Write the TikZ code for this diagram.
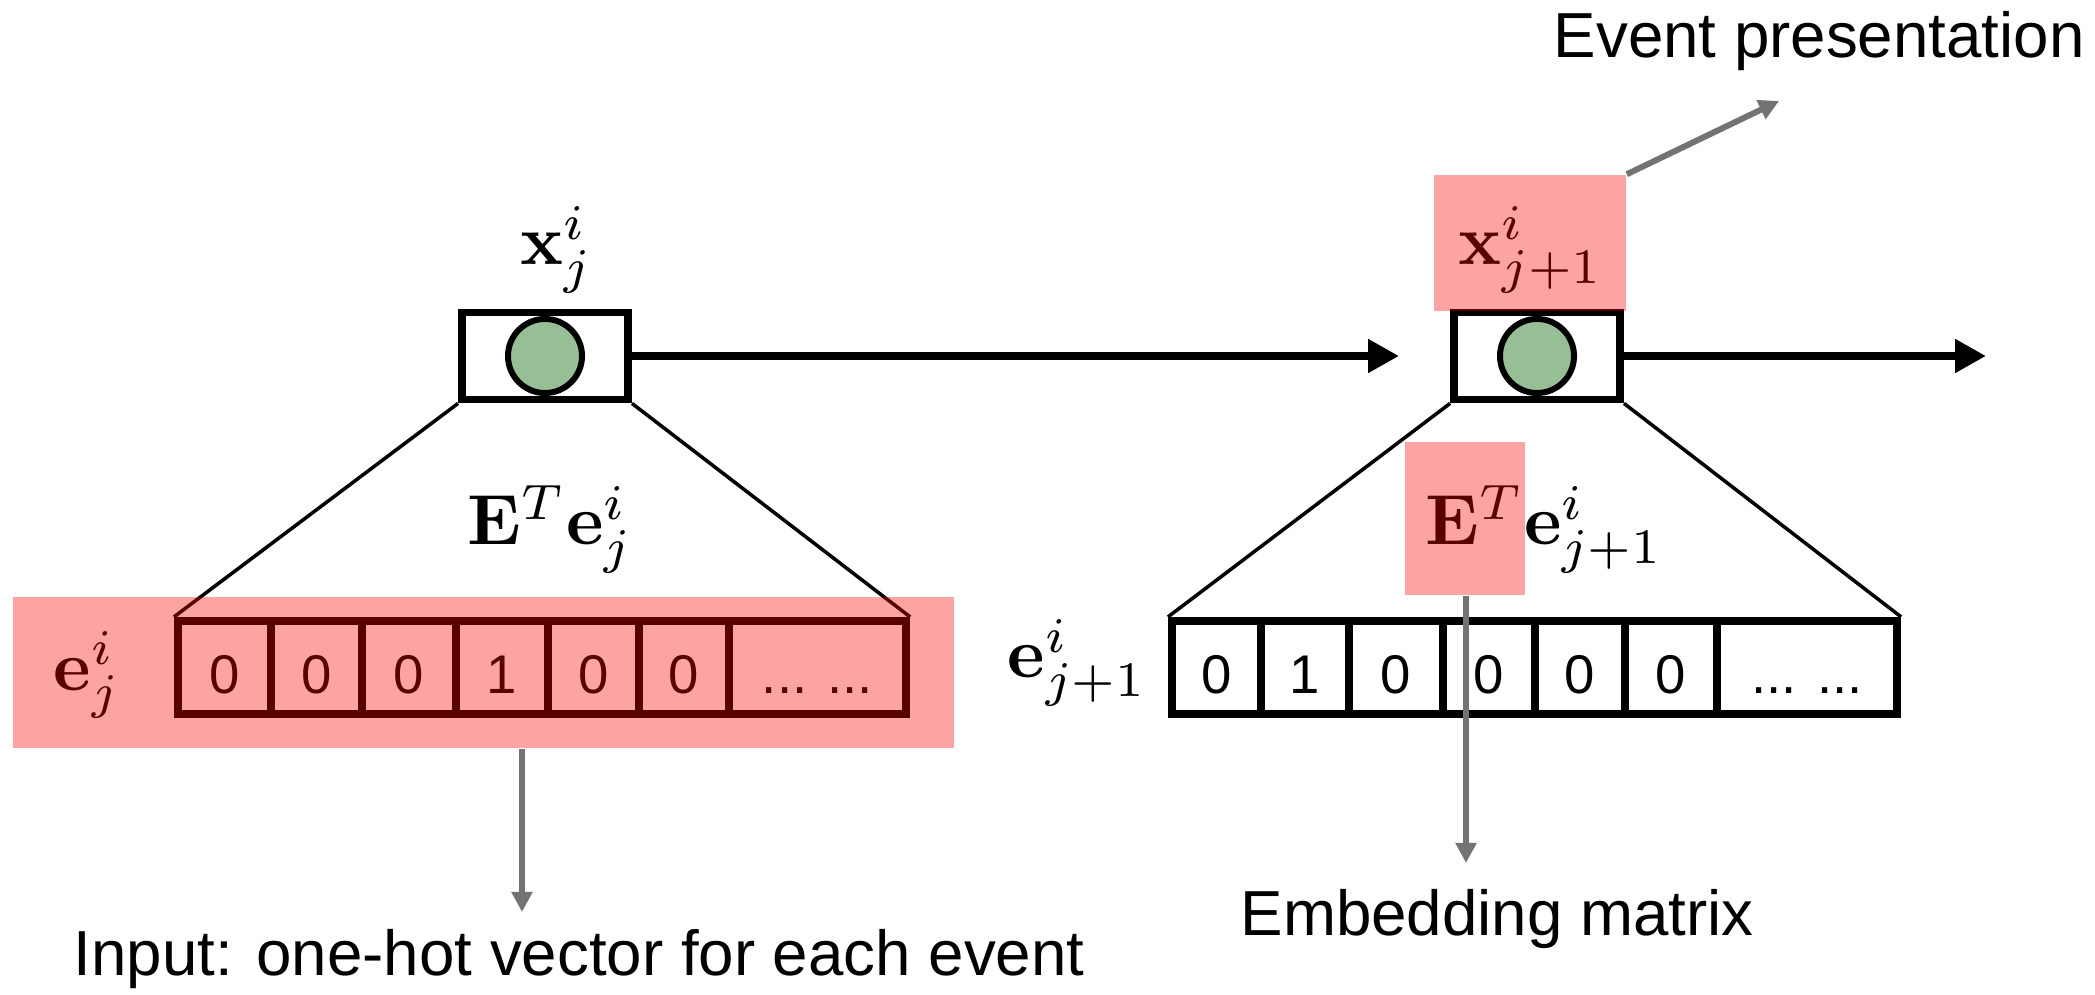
\documentclass[tikz,border=0pt]{standalone}
\usepackage{fix-cm}
\usepackage[no-math]{fontspec}
\newfontfamily\arialf{Liberation Sans}
\usetikzlibrary{arrows.meta}
\definecolor{hlred}{RGB}{247,0,0}
\definecolor{cellgreen}{RGB}{152,190,150}
\definecolor{pointer}{RGB}{115,115,115}
% formulas are set at 10pt and enlarged, keeping the small-size glyph shapes
\newcommand{\scaledmath}[1]{\scalebox{2.02}{\fontsize{10}{12}\selectfont$#1$}}

\begin{document}
\begin{tikzpicture}[x=0.01cm,y=-0.01cm,
  unitbox/.style={draw, line width=2.2pt, minimum width=1.66cm, minimum height=0.87cm, inner sep=0},
  unitdot/.style={circle, draw, line width=1.7pt, fill=cellgreen, minimum size=0.74cm, inner sep=0},
  cell/.style={draw, line width=2.3pt, minimum height=0.93cm, inner sep=0,
    text height=15pt, text depth=0pt, font=\arialf\fontsize{15.5}{18}\selectfont},
  mathlbl/.style={inner sep=0, anchor=base west},
  caption/.style={inner sep=0, anchor=base west, font=\arialf\fontsize{18.1}{22}\selectfont},
  flow/.style={line width=2.3pt, -{Triangle[length=8.8pt,width=9.1pt]}},
  pointerarrow/.style={draw=pointer, line width=1.7pt, -{Triangle[length=5.7pt,width=5.7pt]}},
  highlight/.style={fill=hlred, fill opacity=0.36, inner sep=0},
  fan/.style={line width=1pt}
]
\useasboundingbox (0,0) rectangle (2095,995);

% recurrent units
\node[unitbox] (box1) at (545,356) {};
\node[unitbox] (box2) at (1537,356) {};
\node[unitdot] (dot1) at (box1.center) {};
\node[unitdot] (dot2) at (box2.center) {};

\coordinate (out) at (1986,356);
\draw[flow, shorten >=0.51cm] (box1) -- (box2);
\draw[flow] (box2.east) -- (out);

% hidden-state labels
\node[mathlbl] (x1) at (520,265) {\scaledmath{\mathbf{x}_j^i}};
\node[mathlbl] (x2) at (1458,265) {\scaledmath{\mathbf{x}_{j+1}^i}};

% one-hot input vectors
\node[cell, minimum width=0.93cm] (a1) at (224.5,667.5) {0};
\node[cell, minimum width=0.91cm] (a2) at (316.5,667.5) {0};
\node[cell, minimum width=0.94cm] (a3) at (409,667.5) {0};
\node[cell, minimum width=0.92cm] (a4) at (502,667.5) {1};
\node[cell, minimum width=0.91cm] (a5) at (593.5,667.5) {0};
\node[cell, minimum width=0.90cm] (a6) at (684,667.5) {0};
\node[cell, minimum width=1.77cm] (a7) at (817.5,667.5) {... ...};

\node[cell, minimum width=0.89cm] (b1) at (1216.5,667.5) {0};
\node[cell, minimum width=0.88cm] (b2) at (1305,667.5) {1};
\node[cell, minimum width=0.94cm] (b3) at (1396,667.5) {0};
\node[cell, minimum width=0.92cm] (b4) at (1489,667.5) {0};
\node[cell, minimum width=0.90cm] (b5) at (1580,667.5) {0};
\node[cell, minimum width=0.92cm] (b6) at (1671,667.5) {0};
\node[cell, minimum width=1.80cm] (b7) at (1807,667.5) {... ...};

\node[mathlbl] (v1) at (53,690) {\scaledmath{\mathbf{e}_j^i}};
\node[mathlbl] (v2) at (1007,678) {\scaledmath{\mathbf{e}_{j+1}^i}};

% embedding fans
\draw[fan] (box1.south west) -- (a1.north west);
\draw[fan] (box1.south east) -- (a7.north east);
\draw[fan] (box2.south west) -- (b1.north west);
\draw[fan] (box2.south east) -- (b7.north east);

\node[mathlbl] (emb1) at (467,545) {\scaledmath{\mathbf{E}^T\mathbf{e}_j^i}};
\node[mathlbl] (emb2) at (1425,545) {\scaledmath{\mathbf{E}^T\mathbf{e}_{j+1}^i}};

% highlights
\node[highlight, minimum width=9.41cm, minimum height=1.51cm] (hl1) at (483.5,672.5) {};
\node[highlight, minimum width=1.92cm, minimum height=1.36cm] (hl2) at (1530,243) {};
\node[highlight, minimum width=1.20cm, minimum height=1.53cm] (hl3) at (1465,518.5) {};

% annotations
\node[caption] (evtxt) at (1553,58) {Event presentation};
\node[caption] (intxt) at (73,975) {Input: one-hot vector for each event};
\node[caption] (embtxt) at (1240,935) {Embedding matrix};

\coordinate (evtip) at (1779,101);
\coordinate (intip) at (522,912);
\coordinate (embtip) at (1466,863);
\draw[pointerarrow] (hl2.north east) -- (evtip);
\draw[pointerarrow] (hl1.south -| intip) -- (intip);
\draw[pointerarrow] (hl3.south -| embtip) -- (embtip);
\end{tikzpicture}
\end{document}
